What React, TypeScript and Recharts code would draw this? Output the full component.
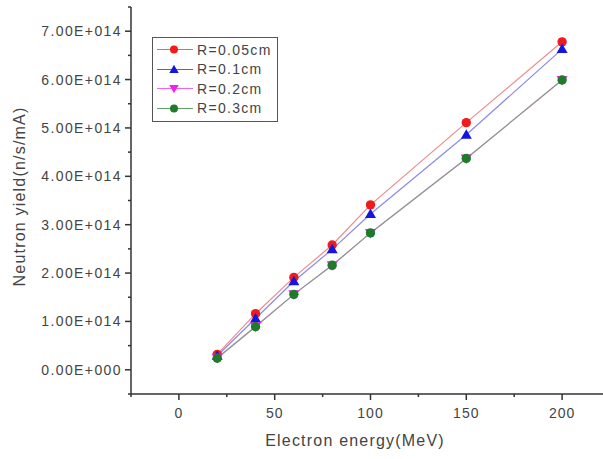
import React from 'react'
import { LineChart, Line, XAxis, YAxis } from 'recharts'

// electron energy (MeV)
const energies = [20, 40, 60, 80, 100, 150, 200]
// neutron yield, in units of 1e14 n/s/mA
const r005 = [0.32, 1.16, 1.91, 2.58, 3.41, 5.11, 6.78]
const r01 = [0.29, 1.06, 1.83, 2.49, 3.22, 4.86, 6.63]
const r02 = [0.25, 0.9, 1.56, 2.16, 2.83, 4.37, 5.99]
const r03 = [0.24, 0.89, 1.56, 2.16, 2.83, 4.37, 5.99]

const xTicks = [-25, 0, 25, 50, 75, 100, 125, 150, 175, 200, 225]
const yTicks = [-0.5, 0, 0.5, 1, 1.5, 2, 2.5, 3, 3.5, 4, 4.5, 5, 5.5, 6, 6.5, 7, 7.5].map((v) => v * 1e14)

const series = [
  { key: 'r005', label: 'R=0.05cm', color: '#ee1c1c', line: '#f08a8a', shape: 'circle' },
  { key: 'r01', label: 'R=0.1cm', color: '#1515e0', line: '#8a8ae8', shape: 'up' },
  { key: 'r02', label: 'R=0.2cm', color: '#f020f0', line: '#f0a0f0', shape: 'down' },
  { key: 'r03', label: 'R=0.3cm', color: '#1f7a2a', line: '#8a9a8a', shape: 'circle' },
]

const data = energies.map((e, i) => ({
  energy: e,
  r005: r005[i] * 1e14,
  r01: r01[i] * 1e14,
  r02: r02[i] * 1e14,
  r03: r03[i] * 1e14,
}))

const FONT = '"Liberation Sans", Arial, sans-serif'
const AXIS = '#333'
const TEXT = '#444'

function Marker({ cx, cy, shape, color, s = 1 }: { cx: number; cy: number; shape: string; color: string; s?: number }) {
  if (shape === 'up') {
    return <path d={`M${cx},${cy - 5.5 * s} L${cx + 5.5 * s},${cy + 4 * s} L${cx - 5.5 * s},${cy + 4 * s} Z`} fill={color} />
  }
  if (shape === 'down') {
    return <path d={`M${cx},${cy + 5.5 * s} L${cx + 5.5 * s},${cy - 4 * s} L${cx - 5.5 * s},${cy - 4 * s} Z`} fill={color} />
  }
  return <circle cx={cx} cy={cy} r={4.7 * s} fill={color} />
}

const isMajor = (v: number, step: number) => Math.abs(v / step - Math.round(v / step)) < 1e-6

const fmtY = (v: number) => {
  const n = Math.round(v / 1e14)
  return n === 0 ? '0.00E+000' : `${n.toFixed(2)}E+014`
}

function LeftTick({ x, y, payload }: any) {
  const major = isMajor(payload.value, 1e14)
  return (
    <g>
      <line x1={x} x2={x - (major ? 6 : 3)} y1={y} y2={y} stroke={AXIS} strokeWidth={1.5} />
      {major && (
        <text x={x - 9} y={y + 5} textAnchor="end" fontSize={14} letterSpacing={1.4} fill={TEXT} fontFamily={FONT}>
          {fmtY(payload.value)}
        </text>
      )}
    </g>
  )
}

function RightTick({ x, y, payload }: any) {
  const major = isMajor(payload.value, 1e14)
  return <line x1={x} x2={x - (major ? 8 : 4)} y1={y} y2={y} stroke={AXIS} strokeWidth={1.5} />
}

function BottomTick({ x, y, payload }: any) {
  const major = isMajor(payload.value, 50)
  return (
    <g>
      <line x1={x} x2={x} y1={y} y2={y + (major ? 6 : 3)} stroke={AXIS} strokeWidth={1.5} />
      {major && (
        <text x={x} y={y + 24} textAnchor="middle" fontSize={14} letterSpacing={1} fill={TEXT} fontFamily={FONT}>
          {payload.value}
        </text>
      )}
    </g>
  )
}

function TopTick({ x, y, payload }: any) {
  const major = isMajor(payload.value, 50)
  return <line x1={x} x2={x} y1={y} y2={y + (major ? 7 : 4)} stroke={AXIS} strokeWidth={1.5} />
}

function LegendBox() {
  return (
    <div
      style={{
        position: 'absolute',
        left: 152,
        top: 37,
        width: 126,
        height: 85,
        border: '1px solid #555',
        background: '#fff',
        boxSizing: 'border-box',
        fontFamily: FONT,
      }}
    >
      {series.map((s, i) => (
        <div key={s.key} style={{ position: 'absolute', left: 2, top: 2 + i * 19.5, height: 19, display: 'flex', alignItems: 'center' }}>
          <svg width={40} height={19}>
            <line x1={2} x2={38} y1={9.5} y2={9.5} stroke={s.color} strokeWidth={1} opacity={0.7} />
            <Marker cx={19} cy={9.5} shape={s.shape} color={s.color} s={0.85} />
          </svg>
          <span style={{ fontSize: 14, letterSpacing: 1.3, color: TEXT, marginLeft: 2 }}>{s.label}</span>
        </div>
      ))}
    </div>
  )
}

export default function App() {
  return (
    <div style={{ position: 'absolute', left: 0, top: 0, width: 603, height: 459, overflow: 'hidden', background: '#fff' }}>
      <LineChart width={620} height={459} data={data} margin={{ top: 7, right: 0, bottom: 0, left: 0 }}>
        <XAxis
          xAxisId="b"
          dataKey="energy"
          type="number"
          domain={[-25, 225]}
          ticks={xTicks}
          interval={0}
          tickSize={0}
          tickMargin={0}
          tick={<BottomTick />}
          height={65}
          stroke={AXIS}
          strokeWidth={1.5}
        />
        <XAxis
          xAxisId="t"
          orientation="top"
          dataKey="energy"
          type="number"
          domain={[-25, 225]}
          ticks={xTicks}
          interval={0}
          tickSize={0}
          tickMargin={0}
          tick={<TopTick />}
          height={0}
          stroke={AXIS}
          strokeWidth={1.5}
        />
        <YAxis
          yAxisId="l"
          type="number"
          domain={[-0.5e14, 7.5e14]}
          ticks={yTicks}
          interval={0}
          tickSize={0}
          tickMargin={0}
          tick={<LeftTick />}
          width={131}
          stroke={AXIS}
          strokeWidth={1.5}
          label={{
            value: 'Neutron yield(n/s/mA)',
            angle: -90,
            position: 'insideLeft',
            dx: 14,
            dy: -4,
            style: { textAnchor: 'middle', fontSize: 16, letterSpacing: 1.2, fill: TEXT, fontFamily: FONT },
          }}
        />
        <YAxis
          yAxisId="r"
          orientation="right"
          type="number"
          domain={[-0.5e14, 7.5e14]}
          ticks={yTicks}
          interval={0}
          tickSize={0}
          tickMargin={0}
          tick={<RightTick />}
          width={10}
          stroke={AXIS}
          strokeWidth={1.5}
        />
        {series.map((s) => (
          <Line
            key={s.key}
            xAxisId="b"
            yAxisId="l"
            dataKey={s.key}
            stroke={s.line}
            strokeWidth={1.2}
            isAnimationActive={false}
            dot={(p: any) => <Marker key={`${s.key}-${p.index}`} cx={p.cx} cy={p.cy} shape={s.shape} color={s.color} />}
            activeDot={false}
          />
        ))}
        <text x={355} y={446} textAnchor="middle" fontSize={16} letterSpacing={1.2} fill={TEXT} fontFamily={FONT}>
          Electron energy(MeV)
        </text>
      </LineChart>
      <LegendBox />
    </div>
  )
}
